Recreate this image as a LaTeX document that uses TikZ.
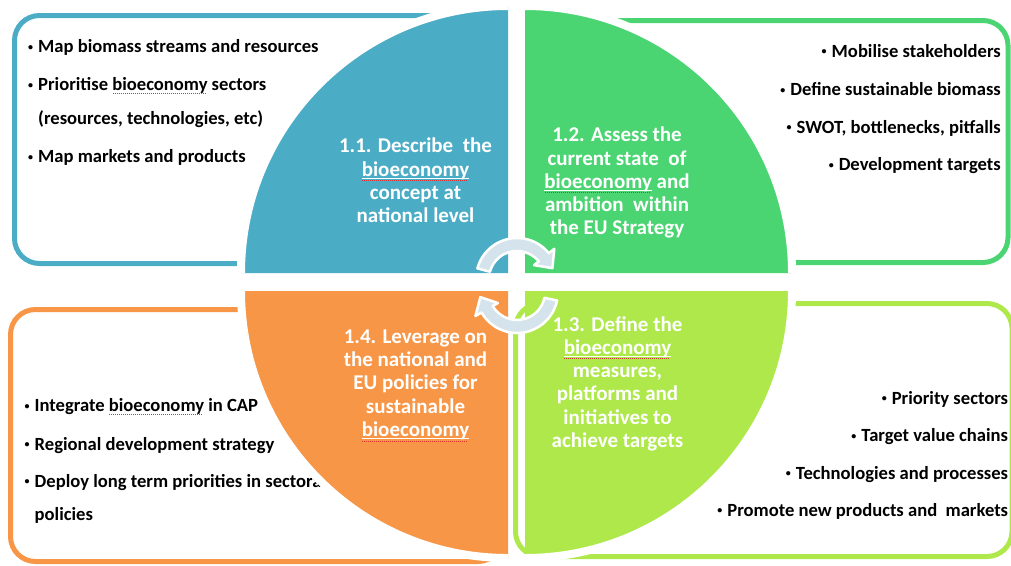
\documentclass[tikz,border=0pt]{standalone}
\usepackage{fontspec}
\setmainfont{Carlito}
\definecolor{blueq}{HTML}{4BACC6}
\definecolor{greenq}{HTML}{4AD572}
\definecolor{limeq}{HTML}{AEE84B}
\definecolor{orangeq}{HTML}{F79646}
\definecolor{arrowq}{HTML}{D5E4EC}
\definecolor{typored}{HTML}{E03030}
\newsavebox{\typobox}
\newcommand{\bul}{\makebox[12pt][l]{\hspace{2pt}\raisebox{2.5pt}{\fontsize{10}{10}\selectfont\textbullet}}}
\newcommand{\typodots}{\textcolor{typored}{\leaders\hbox to 2pt{\hss\rule{1pt}{0.7pt}\hss}\hskip\wd\typobox}}
\newcommand{\typo}[1]{\sbox\typobox{#1}\leavevmode\rlap{\raisebox{-3pt}{\typodots}}\usebox\typobox}
\newcommand{\typoq}[1]{\sbox\typobox{#1}\leavevmode\rlap{\rule[-2.8pt]{\wd\typobox}{1.2pt}}\rlap{\raisebox{-4.8pt}{\typodots}}\usebox\typobox}
\begin{document}
\begin{tikzpicture}[x=1pt, y=-1pt,
    listtext/.style={font=\fontsize{18.6}{22}\selectfont\bfseries, inner sep=0pt},
    quadtext/.style={font=\fontsize{21}{23.3}\selectfont\bfseries, text=white, align=center, inner sep=0pt, anchor=base},
    frame/.style={line width=5pt, rounded corners=25pt},
    gapline/.style={white, line width=8pt},
    cyclearrow/.style={fill=arrowq, draw=white, line width=2.5pt, line join=round}]
    \useasboundingbox (0,0) rectangle (1011,565);
    \clip (0,0) rectangle (1011,565);

    % frames behind
    \draw[frame, blueq] (14.5,15.5) rectangle (490,263.5);
    \draw[frame, greenq] (540,20.5) rectangle (1008,262.5);
    \draw[frame, orangeq] (10.5,309.5) rectangle (503,561.5);
    \draw[frame, limeq] (515.5,303.5) rectangle (1012,556.5);

    % lists
    \node[listtext, anchor=base west] (blue1) at (26,52.5) {\bul Map biomass streams and resources};
    \node[listtext, anchor=base west] (blue2) at (26,90.7) {\bul Prioritise \typo{bioeconomy} sectors};
    \node[listtext, anchor=base west] (blue3) at (38,124) {(resources, technologies, etc)};
    \node[listtext, anchor=base west] (blue4) at (26,162.5) {\bul Map markets and products};

    \node[listtext, anchor=base east] (green1) at (1001,57.3) {\bul Mobilise stakeholders};
    \node[listtext, anchor=base east] (green2) at (1001,95.7) {\bul Define sustainable biomass};
    \node[listtext, anchor=base east] (green3) at (1001,133.3) {\bul SWOT, bottlenecks, pitfalls};
    \node[listtext, anchor=base east] (green4) at (1001,170.7) {\bul Development targets};

    \node[listtext, anchor=base west] (orange1) at (22.5,411.7) {\bul Integrate \typo{bioeconomy} in CAP};
    \node[listtext, anchor=base west] (orange2) at (22.5,450) {\bul Regional development strategy};
    \node[listtext, anchor=base west] (orange3) at (22.5,487.3) {\bul Deploy long term priorities in sectoral};
    \node[listtext, anchor=base west] (orange4) at (34.5,520.7) {policies};

    \node[listtext, anchor=base east] (lime1) at (1008.3,404) {\bul Priority sectors};
    \node[listtext, anchor=base east] (lime2) at (1008.3,441.7) {\bul Target value chains};
    \node[listtext, anchor=base east] (lime3) at (1008.3,479) {\bul Technologies and processes};
    \node[listtext, anchor=base east] (lime4) at (1008.3,516) {\bul Promote new products and\ \ markets};

    % quarters
    \fill[blueq] (508,273) -- ++(180:267) arc (180:270:267) -- cycle;
    \draw[gapline] (508,273) ++(180:267) arc (180:270:267);
    \fill[greenq] (525,273) -- ++(270:267) arc (270:360:267) -- cycle;
    \draw[gapline] (525,273) ++(270:267) arc (270:360:267);
    \fill[orangeq] (508,291) -- ++(90:267) arc (90:180:267) -- cycle;
    \draw[gapline] (508,291) ++(90:267) arc (90:180:267);
    \fill[limeq] (525,291) -- ++(0:267) arc (0:90:267) -- cycle;
    \draw[gapline] (525,291) ++(0:267) arc (0:90:267);

    % base = last line
    \node[quadtext] (q11) at (415.5,222.6) {1.1. Describe\ \ the\\\typoq{bioeconomy}\\concept at\\national level};
    \node[quadtext] (q12) at (617,234.9) {1.2. Assess the\\current state\ \ of\\\typoq{bioeconomy} and\\ambition\ \ within\\the EU Strategy};
    \node[quadtext] (q13) at (617.5,447.5) {1.3. Define the\\\typoq{bioeconomy}\\measures,\\platforms and\\initiatives to\\achieve targets};
    \node[quadtext] (q14) at (415.5,436.5) {1.4. Leverage on\\the national and\\EU policies for\\sustainable\\\typoq{bioeconomy}};

    % cycle arrows
    \begin{scope}[shift={(517,279)}]
        \filldraw[cyclearrow] (195:41) arc (195:321:41) -- (321:48) -- (343:37) -- (321:22) -- (321:28) arc (321:195:28) -- cycle;
    \end{scope}
    \begin{scope}[shift={(517,292)}]
        \filldraw[cyclearrow] (12:41) arc (12:150:41) -- (150:48) -- (172:37) -- (150:22) -- (150:28) arc (150:12:28) -- cycle;
    \end{scope}
\end{tikzpicture}
\end{document}
